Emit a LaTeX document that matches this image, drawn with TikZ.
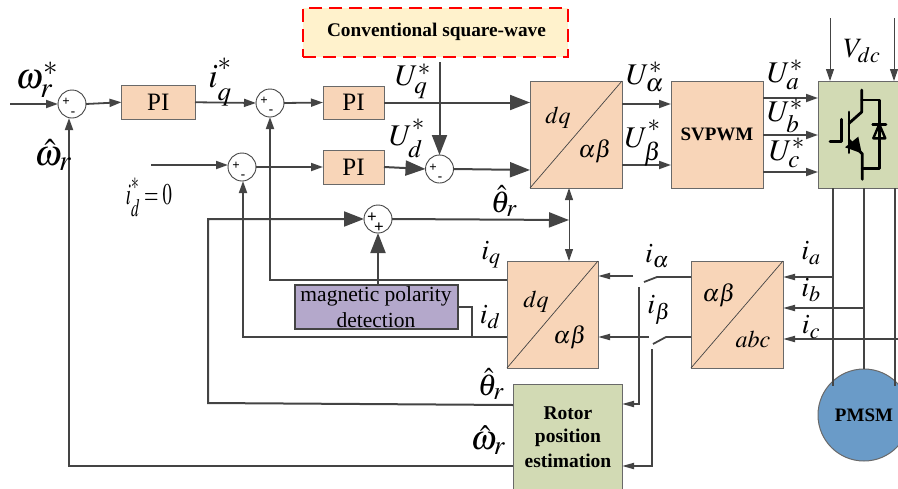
\documentclass[tikz,border=0pt]{standalone}
\usepackage{mathptmx}
\usepackage[no-math]{fontspec}
\setmainfont{Liberation Serif}
\usetikzlibrary{arrows.meta}
\DeclareMathSizes{24}{24}{19}{15}
\DeclareMathSizes{28}{28}{22}{17}
\DeclareMathSizes{30}{30}{25}{18}
\DeclareMathSizes{34}{34}{27}{20}
\DeclareMathSizes{36}{36}{29}{21}
\definecolor{ln}{HTML}{444444}
\definecolor{peach}{HTML}{F8D5B8}
\definecolor{sage}{HTML}{D2DAB4}
\definecolor{lilac}{HTML}{B4A8CB}
\definecolor{motor}{HTML}{6A9BC8}
\definecolor{cream}{HTML}{FFF2CC}
\newcommand{\fs}[1]{\fontsize{#1}{#1}\selectfont}
\newcommand{\upsc}[1]{\raisebox{5pt}{$\scriptstyle #1$}}
\newcommand{\dnsc}[1]{\raisebox{-4pt}{$\scriptstyle #1$}}
\tikzset{
  wire/.style={draw=ln,line width=1.8pt},
  heavy/.style={draw=ln,line width=2pt},
  thinwire/.style={draw=ln,line width=1pt},
  sa/.style={wire,-{Triangle[length=12pt,width=8pt]}},
  ba/.style={heavy,-{Triangle[length=20pt,width=15pt]}},
  ta/.style={thinwire,-{Triangle[length=12pt,width=8pt]}},
  na/.style={wire,-{Triangle[length=12pt,width=6pt]}},
  block/.style={draw=ln!80,line width=1pt,inner sep=0pt,outer sep=0pt},
  peachbox/.style={block,fill=peach},
  sagebox/.style={block,fill=sage},
  sumnode/.style={circle,draw=ln,line width=.9pt,fill=white,minimum size=28pt,inner sep=0pt,outer sep=0pt},
  sign/.style={inner sep=0pt,font=\fs{13}\bfseries},
  lab/.style={inner sep=0pt,text=black,font=\fs{30}},
  slab/.style={inner sep=0pt,text=black,font=\fs{28}},
  tlab/.style={inner sep=0pt,text=black,font=\fs{24}},
  blocklab/.style={inner sep=0pt,text=black,font=\fs{25}},
  boldlab/.style={inner sep=0pt,text=black,font=\fs{19.5}\bfseries},
  igbt/.style={draw=black,line width=2.8pt,line cap=round,line join=round},
}
\newcommand{\boxat}[6]{\node[#2,minimum width=#5pt - #3pt,minimum height=#6pt - #4pt,anchor=north west] (#1) at (#3,#4) {};}
\newcommand{\sumj}[3]{\node[sumnode] (#1) at (#2,#3) {};}
\begin{document}
\begin{tikzpicture}[x=1pt,y=-1pt]
\clip (0,0) rectangle (898,488);
% blocks
\node[draw=red,dash pattern=on 13pt off 7pt,line width=1.3pt,fill=cream,minimum width=265pt,minimum height=49pt,anchor=north west,inner sep=0pt,outer sep=0pt] (conv) at (303,8) {};
\node[boldlab,font=\fs{19.3}\bfseries] (convt) at (436.5,32) {Conventional square-wave};
\boxat{pia}{peachbox}{121.5}{85.5}{195}{119}
\boxat{pib}{peachbox}{323}{86}{384}{119}
\boxat{pic}{peachbox}{323}{150}{384}{184}
\boxat{dqa}{peachbox}{530}{81}{622}{188}
\boxat{svm}{peachbox}{671}{81}{763}{188}
\boxat{inv}{sagebox}{818}{81}{910}{188}
\boxat{dqb}{peachbox}{507}{261}{598}{368}
\boxat{abc}{peachbox}{691}{261}{783}{368}
\boxat{rot}{sagebox}{513}{384}{622}{500}
\node[draw=ln,line width=1.8pt,fill=lilac,minimum width=163pt,minimum height=44pt,anchor=north west,inner sep=0pt,outer sep=0pt] (mag) at (295,285) {};
\node[circle,draw=ln!80,line width=1pt,fill=motor,minimum size=92pt,inner sep=0pt,outer sep=0pt] (pmsm) at (864,415) {};
% diagonals
\draw[ln,line width=.7pt] (dqa.south west) -- (dqa.north east);
\draw[ln,line width=.7pt] (dqb.south west) -- (dqb.north east);
\draw[ln,line width=.7pt] (abc.south west) -- (abc.north east);
% summing junctions
\sumj{sa}{72}{104}
\sumj{sb}{270}{103}
\sumj{sc}{242}{167}
\sumj{sd}{439.5}{169}
\sumj{se}{378}{219}
% free ends and ports
\coordinate (win) at (10,104);
\coordinate (idin) at (151,165);
\coordinate (dqa1) at (530,102);
\coordinate (dqa2) at (530,170);
\coordinate (ps) at (569,220);
\coordinate (pst) at (569,188);
\coordinate (psb) at (569,261);
\coordinate (vt1) at (830,18);
\coordinate (vb1) at (830,81);
\coordinate (vt2) at (894,18);
\coordinate (vb2) at (894,81);
% forward path
\draw[sa] (win) -- (sa.west);
\draw[sa] (sa.east) -- (pia.west);
\draw[sa] (pia.east) -- (sb.west);
\draw[sa] (sb.east) -- (pib.west);
\draw[ba] (pib.east) -- (pib.east -| dqa1);
\draw[sa] (idin) -- (sc.west |- idin);
\draw[sa] (sc.east) -- (pic.west);
\draw[ba] (pic.east) -- (sd.west);
\draw[ba] (sd.east) -- (dqa2);
\draw[ba] (conv.south -| sd) ++(0,5) -- (sd.north);
\draw[ba] (se.east) -- (ps);
\draw[thinwire,{Triangle[length=12pt,width=8pt]}-{Triangle[length=12pt,width=8pt]}] (pst) -- (psb);
% voltages
\coordinate (ual) at (622,104);
\coordinate (ube) at (622,165);
\coordinate (uaa) at (763,98);
\coordinate (ubb) at (763,135);
\coordinate (ucc) at (763,172);
\draw[sa] (ual) -- (ual -| svm.west);
\draw[sa] (ube) -- (ube -| svm.west);
\draw[sa] (uaa) -- (uaa -| inv.west);
\draw[sa] (ubb) -- (ubb -| inv.west);
\draw[sa] (ucc) -- (ucc -| inv.west);
\draw[ta] (vt1) -- (vb1);
\draw[ta] (vt2) -- (vb2);
% phases
\coordinate (pa) at (833,188);
\coordinate (pb) at (864,188);
\coordinate (pc) at (895,188);
\coordinate (ia) at (833,277);
\coordinate (ib) at (864,308);
\coordinate (ic) at (898,339);
\draw[wire] (pa) -- (833,386);
\draw[wire] (pb) -- (pmsm.north);
\draw[wire] (pc) -- (895,386);
\draw[na] (ia) -- (ia -| abc.east);
\draw[na] (ib) -- (ib -| abc.east);
\draw[na] (ic) -- (ic -| abc.east);
% switches
\coordinate (swa) at (657,277);
\coordinate (swat) at (644,282);
\coordinate (swb) at (666,337);
\coordinate (swbt) at (653,344);
\coordinate (aout) at (633,276);
\coordinate (bout) at (649,337);
\coordinate (avt) at (639,287);
\coordinate (avb) at (639,404);
\coordinate (bvt) at (652,349);
\coordinate (bvb) at (652,466);
\draw[wire] (swa -| abc.west) -- (swa) -- (swat);
\draw[wire] (swb -| abc.west) -- (swb) -- (swbt);
\draw[na] (aout) -- (aout -| dqb.east);
\draw[na] (bout) -- (bout -| dqb.east);
\draw[na] (avt) -- (avb) -- (avb -| rot.east);
\draw[na] (bvt) -- (bvb) -- (bvb -| rot.east);
% feedback
\coordinate (fw) at (69,466);
\coordinate (ft) at (208,403);
\coordinate (fq) at (270,280);
\coordinate (fd) at (243,337);
\coordinate (mj) at (472,337);
\coordinate (mo) at (472,307);
\draw[sa] (rot.west |- fw) -- (fw) -- (69,118);
\draw[sa] (dqb.west |- fq) -- (fq) -- (sb.south);
\draw[sa] (dqb.west |- fd) -- (fd) -- (243,181);
\draw[ba] (513,405) -- (ft) -- (208,219) -- (se.west);
\draw[ba] (se.south |- mag.north) -- (se.south);
\draw[wire] (mag.east |- mo) -- (mo) -- (mj);
% signs
\node[sign] (sa1) at (66,102) {+};
\node[sign] (sa2) at (73,114) {-};
\node[sign] (sb1) at (264,101) {+};
\node[sign] (sb2) at (271,112) {-};
\node[sign] (sc1) at (236,166) {+};
\node[sign] (sc2) at (243,177) {-};
\node[sign] (sd1) at (433,168) {+};
\node[sign] (sd2) at (440,179) {-};
\node[sign,font=\fs{17}\bfseries] (se1) at (372,218) {+};
\node[sign,font=\fs{17}\bfseries] (se2) at (379,228) {+};
% block texts
\node[blocklab] (pat) at (pia) {PI};
\node[blocklab] (pbt) at (pib) {PI};
\node[blocklab] (pct) at (pic) {PI};
\node[boldlab,font=\fs{19}\bfseries] (svt) at (svm) {SVPWM};
\node[boldlab,font=\fs{19}\bfseries] (pmt) at (pmsm) {PMSM};
\node[boldlab] (r1) at (568,413) {Rotor};
\node[boldlab] (r2) at (568,438) {position};
\node[boldlab] (r3) at (568,461) {estimation};
\node[inner sep=0pt,font=\fs{21.5}] (m1) at (376,296) {magnetic polarity};
\node[inner sep=0pt,font=\fs{21.5}] (m2) at (376,320) {detection};
% IGBT
\draw[igbt] (861.7,90) -- (861.7,112) -- (849,123.3);
\draw[igbt] (849,112) -- (849,152.7);
\draw[igbt] (830,141.7) -- (841.7,141.7) -- (841.7,119.3);
\draw[igbt] (849,140) -- (862.3,154) -- (862.3,179.3);
\fill[black] (858.3,136.7) -- (861.7,153.3) -- (845,147.3) -- cycle;
\draw[igbt] (861.7,100) -- (879.3,100) -- (879.3,168.3) -- (862.3,168.3);
\draw[igbt] (872.7,124.3) -- (886,124.3);
\draw[igbt,fill=none,line width=2.4pt] (879.3,124.3) -- (873.3,138.3) -- (885.3,138.3) -- cycle;
% math labels
\node[lab,font=\fs{36}] (lw) at (37,80) {$\omega_{r}^{*}$};
\node[lab,font=\fs{36}] (lwh) at (53,155) {$\hat{\omega}_{r}$};
\node[lab,font=\fs{34}] (liq) at (220,82) {$i^{\upsc{*}}_{\dnsc{q}}$};
\node[lab] (luq) at (413,81) {$U_{q}^{*}$};
\node[lab] (lud) at (407,138) {$U_{\dnsc{d}}^{\upsc{*}}$};
\node[lab] (lid) at (149,197) {\scalebox{.62}[1]{$i_{\dnsc{d}}^{\upsc{*}}=0$}};
\node[lab] (lth) at (504,201) {$\hat{\theta}_{r}$};
\node[lab] (lua) at (645,77) {$U_{\alpha}^{*}$};
\node[lab] (lub) at (643,143) {$U_{\dnsc{\beta}}^{\upsc{*}}$};
\node[lab] (lUa) at (785,75) {$U_{a}^{*}$};
\node[lab] (lUb) at (785,116) {$U_{b}^{*}$};
\node[lab] (lUc) at (787,153) {$U_{c}^{*}$};
\node[slab] (lv) at (862,51) {$V_{dc}$};
\node[tlab] (t1) at (558,118) {$dq$};
\node[tlab] (t2) at (595,151) {$\alpha\beta$};
\node[tlab] (t3) at (536,302) {$dq$};
\node[tlab] (t4) at (570,337) {$\alpha\beta$};
\node[tlab] (t5) at (719,295) {$\alpha\beta$};
\node[tlab] (t6) at (753,339) {$abc$};
\node[slab] (liq2) at (491,255) {$i_{q}$};
\node[slab] (lid2) at (490,317) {$i_{d}$};
\node[slab] (lia) at (657,256) {$i_{\alpha}$};
\node[slab] (lib) at (659,310) {$i_{\beta}$};
\node[slab] (lpa) at (811,253) {$i_{a}$};
\node[slab] (lpb) at (811,290) {$i_{b}$};
\node[slab] (lpc) at (811,327) {$i_{c}$};
\node[lab] (lth2) at (491,384) {$\hat{\theta}_{r}$};
\node[lab,font=\fs{34}] (lw2) at (488,440) {$\hat{\omega}_{r}$};
\end{tikzpicture}
\end{document}
